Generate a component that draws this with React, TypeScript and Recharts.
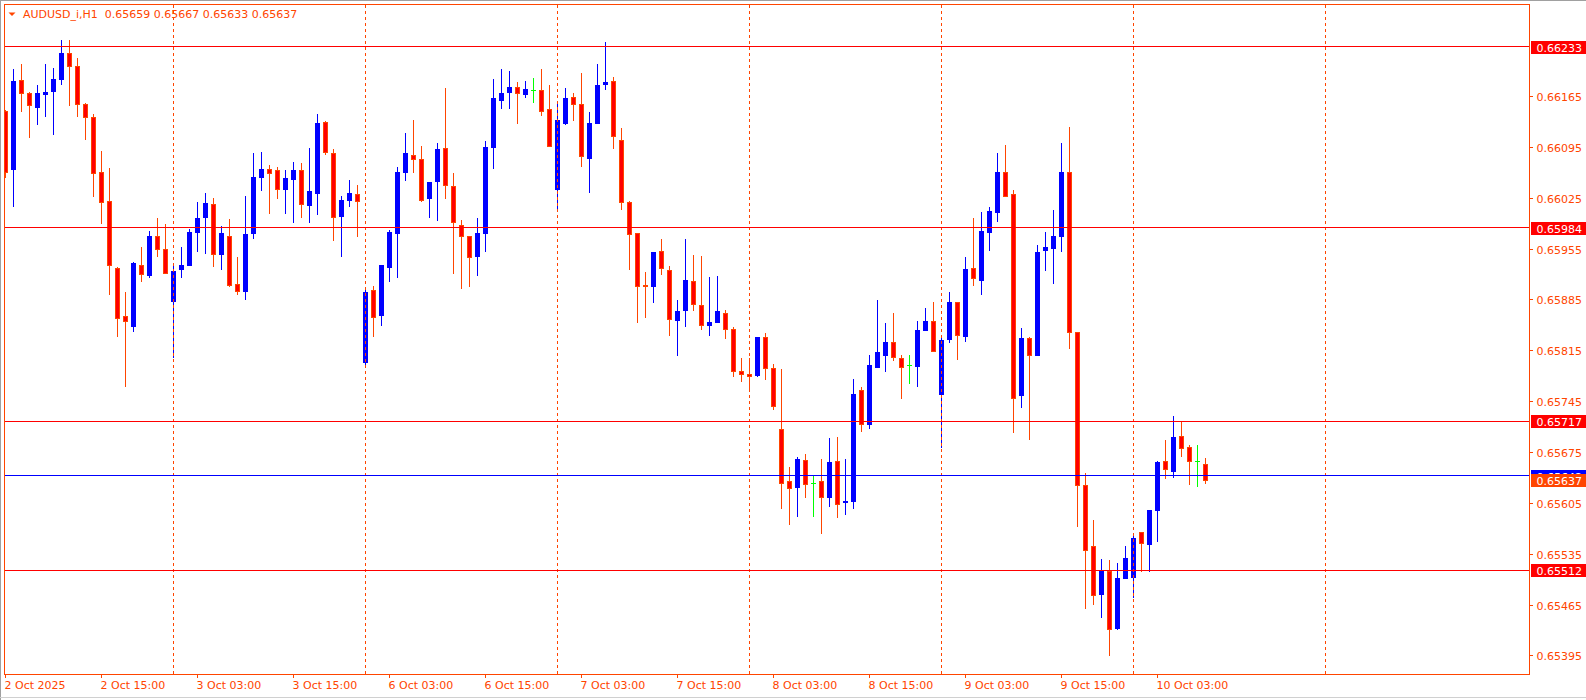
import React from "react";
import { ComposedChart, Bar, XAxis, YAxis, ReferenceLine } from "recharts";

// AUDUSD_i H1 candles, 2 Oct 03:00 .. 10 Oct 09:00
const OPEN = [
  0.66144, 0.66065, 0.66187, 0.66169, 0.6615, 0.66168, 0.66172, 0.66189, 0.66224, 0.66206,
  0.66154, 0.66136, 0.6606, 0.6602, 0.65928, 0.65862, 0.65849, 0.65933, 0.65919, 0.65972,
  0.65954, 0.65883, 0.65927, 0.65933, 0.65978, 0.65998, 0.66016, 0.65948, 0.65972, 0.65906,
  0.65896, 0.65977, 0.66053, 0.66065, 0.66063, 0.66037, 0.66051, 0.66063, 0.66015, 0.66032,
  0.66129, 0.66087, 0.66, 0.66022, 0.6603, 0.65799, 0.65898, 0.65863, 0.6593, 0.65976,
  0.66061, 0.66084, 0.66079, 0.66024, 0.66048, 0.66094, 0.66041, 0.65987, 0.65972, 0.65945,
  0.65976, 0.66095, 0.6616, 0.66171, 0.66177, 0.66168, 0.66173, 0.66173, 0.66147, 0.66037,
  0.66128, 0.66164, 0.66154, 0.6608, 0.66128, 0.66181, 0.66186, 0.66104, 0.66019, 0.65976,
  0.65905, 0.65903, 0.65951, 0.65926, 0.65857, 0.6587, 0.6591, 0.65878, 0.6585, 0.65854,
  0.65867, 0.65844, 0.65787, 0.65782, 0.65781, 0.65833, 0.6579, 0.65707, 0.65635, 0.65627,
  0.65664, 0.65632, 0.65635, 0.65613, 0.65662, 0.65606, 0.65607, 0.6576, 0.65713, 0.65792,
  0.65808, 0.65827, 0.65804, 0.65795, 0.65794, 0.65843, 0.65855, 0.65755, 0.6583, 0.65882,
  0.65834, 0.65928, 0.65912, 0.65978, 0.66006, 0.66061, 0.6603, 0.65753, 0.65832, 0.65809,
  0.65953, 0.65956, 0.65972, 0.6606, 0.6584, 0.65629, 0.65545, 0.65479, 0.65511, 0.65433,
  0.65501, 0.65503, 0.65565, 0.65548, 0.65595, 0.65662, 0.65649, 0.65697, 0.65682, 0.65662,
  0.65659,
];
const HIGH = [
  0.66146, 0.66202, 0.66209, 0.66171, 0.6618, 0.66209, 0.66204, 0.66242, 0.66242, 0.66218,
  0.66155, 0.6614, 0.66089, 0.66066, 0.65929, 0.65895, 0.65936, 0.65957, 0.65979, 0.65997,
  0.65989, 0.65932, 0.65957, 0.65982, 0.66019, 0.66032, 0.66025, 0.65986, 0.65996, 0.65944,
  0.66027, 0.66087, 0.66088, 0.6607, 0.66067, 0.66063, 0.66074, 0.66073, 0.66094, 0.6614,
  0.66131, 0.66092, 0.66027, 0.66049, 0.66043, 0.65902, 0.65904, 0.65932, 0.6598, 0.66067,
  0.66114, 0.66132, 0.66096, 0.66047, 0.661, 0.66176, 0.66059, 0.65994, 0.65972, 0.65997,
  0.66103, 0.66188, 0.66202, 0.662, 0.66184, 0.66186, 0.6619, 0.66202, 0.6618, 0.66154,
  0.66176, 0.66169, 0.66197, 0.66143, 0.66209, 0.66239, 0.66191, 0.66121, 0.66021, 0.65976,
  0.65923, 0.6595, 0.65968, 0.65931, 0.65884, 0.65968, 0.65946, 0.65945, 0.65916, 0.65917,
  0.6587, 0.65847, 0.65804, 0.65804, 0.65833, 0.65839, 0.65796, 0.65789, 0.65654, 0.65668,
  0.65672, 0.65643, 0.65665, 0.65694, 0.65696, 0.65665, 0.65776, 0.65765, 0.65809, 0.65884,
  0.65853, 0.65866, 0.65808, 0.65808, 0.65855, 0.65873, 0.65882, 0.65833, 0.65895, 0.65882,
  0.65943, 0.65997, 0.66005, 0.66012, 0.66087, 0.66098, 0.66035, 0.65846, 0.65833, 0.6596,
  0.65978, 0.66008, 0.661, 0.66122, 0.6584, 0.65646, 0.65581, 0.65528, 0.65526, 0.65522,
  0.65545, 0.65563, 0.65565, 0.65595, 0.65663, 0.65691, 0.65725, 0.65717, 0.65685, 0.65685,
  0.65667,
];
const LOW = [
  0.66053, 0.66014, 0.66145, 0.66109, 0.66127, 0.66137, 0.66113, 0.66182, 0.66153, 0.66138,
  0.66106, 0.66028, 0.6599, 0.65892, 0.65834, 0.65766, 0.65842, 0.65911, 0.65916, 0.65945,
  0.65921, 0.65806, 0.65916, 0.65932, 0.65952, 0.65949, 0.65931, 0.65927, 0.65903, 0.65892,
  0.65886, 0.6597, 0.66035, 0.66004, 0.66024, 0.66004, 0.65991, 0.65998, 0.65991, 0.66002,
  0.66085, 0.65967, 0.65945, 0.66014, 0.65973, 0.65793, 0.65834, 0.6585, 0.65911, 0.65916,
  0.6605, 0.66061, 0.6602, 0.65999, 0.65995, 0.66025, 0.65922, 0.65901, 0.65903, 0.65918,
  0.65952, 0.66066, 0.66148, 0.66149, 0.66128, 0.66163, 0.66157, 0.66139, 0.66096, 0.66008,
  0.66126, 0.66132, 0.66069, 0.66033, 0.66128, 0.66175, 0.66094, 0.6601, 0.65927, 0.65854,
  0.65861, 0.65881, 0.6592, 0.65836, 0.65808, 0.65848, 0.65871, 0.65845, 0.65836, 0.65854,
  0.65832, 0.65779, 0.65773, 0.65759, 0.6578, 0.65776, 0.65734, 0.65598, 0.65576, 0.65587,
  0.65613, 0.65587, 0.65563, 0.656, 0.65585, 0.6559, 0.65598, 0.65704, 0.65708, 0.65792,
  0.65786, 0.65801, 0.6575, 0.6577, 0.65766, 0.65843, 0.65814, 0.65682, 0.65827, 0.65803,
  0.65828, 0.65905, 0.65893, 0.65953, 0.65993, 0.66028, 0.65703, 0.65737, 0.65693, 0.65808,
  0.65926, 0.65907, 0.65951, 0.65818, 0.65573, 0.6546, 0.65466, 0.65448, 0.65396, 0.65432,
  0.65501, 0.65475, 0.65511, 0.65511, 0.65552, 0.65639, 0.6564, 0.65669, 0.65631, 0.65628,
  0.65633,
];
const CLOSE = [
  0.6606, 0.66186, 0.66169, 0.66152, 0.66169, 0.66171, 0.66188, 0.66224, 0.66207, 0.66154,
  0.66136, 0.66059, 0.66019, 0.65932, 0.6586, 0.65855, 0.65935, 0.6592, 0.65972, 0.65954,
  0.65921, 0.65924, 0.65932, 0.65978, 0.65997, 0.66018, 0.65948, 0.65976, 0.65905, 0.65897,
  0.65975, 0.66054, 0.66065, 0.66059, 0.66037, 0.66052, 0.66063, 0.66016, 0.66034, 0.66128,
  0.66088, 0.65998, 0.66022, 0.66032, 0.66021, 0.65895, 0.65861, 0.65932, 0.65978, 0.6606,
  0.66087, 0.66078, 0.66022, 0.66047, 0.66092, 0.66042, 0.65991, 0.65972, 0.65944, 0.65976,
  0.66095, 0.66162, 0.66169, 0.66177, 0.66169, 0.66175, 0.66173, 0.66145, 0.66096, 0.66132,
  0.66162, 0.66154, 0.66082, 0.66128, 0.6618, 0.66184, 0.6611, 0.66019, 0.65975, 0.65903,
  0.65903, 0.6595, 0.65928, 0.65858, 0.65869, 0.65912, 0.65879, 0.6585, 0.65854, 0.65869,
  0.65844, 0.65786, 0.65782, 0.65779, 0.65833, 0.65791, 0.65739, 0.65633, 0.65626, 0.65665,
  0.65631, 0.65632, 0.65613, 0.65661, 0.65604, 0.65608, 0.65755, 0.65713, 0.65795, 0.65813,
  0.65826, 0.65806, 0.65792, 0.65795, 0.65843, 0.65855, 0.65814, 0.65829, 0.65882, 0.65836,
  0.65927, 0.65914, 0.65979, 0.66007, 0.6606, 0.66028, 0.65749, 0.65832, 0.65808, 0.6595,
  0.65957, 0.65973, 0.6606, 0.6584, 0.65629, 0.6554, 0.65478, 0.65511, 0.65432, 0.65501,
  0.65529, 0.65556, 0.6555, 0.65595, 0.65661, 0.65651, 0.65696, 0.6568, 0.65662, 0.65662,
  0.65637,
];

// bar index of each time label, and the labels
const X_TICKS = [0, 12, 24, 36, 48, 60, 72, 84, 96, 108, 120, 132, 144];
const X_LABELS = [
  "2 Oct 2025", "2 Oct 15:00", "3 Oct 03:00", "3 Oct 15:00", "6 Oct 03:00",
  "6 Oct 15:00", "7 Oct 03:00", "7 Oct 15:00", "8 Oct 03:00", "8 Oct 15:00",
  "9 Oct 03:00", "9 Oct 15:00", "10 Oct 03:00",
];
// bars that open a new day (period separators)
const DAY_STARTS = [21, 45, 69, 93, 117, 141, 165];

const PRICE_TICKS = [
  0.65395, 0.65465, 0.65535, 0.65605, 0.65675, 0.65745,
  0.65815, 0.65885, 0.65955, 0.66025, 0.66095, 0.66165,
];
const LEVELS = [0.66233, 0.65984, 0.65717, 0.65512];
const ASK_PRICE = 0.65642;
const SYMBOL = "AUDUSD_i,H1";

const W = 1586;
const H = 700;
const FONT = '"DejaVu Sans", Verdana, sans-serif';
const EDGE = "#FF4500";
const BULL = "#0000FF";
const BEAR = "#FF0000";
const DOJI = "#00FF00";

const LAST = CLOSE.length - 1;
const LAST_PRICE = CLOSE[LAST];

const data = OPEN.map((o, i) => ({
  i,
  o,
  h: HIGH[i],
  l: LOW[i],
  c: CLOSE[i],
  range: [LOW[i], HIGH[i]],
}));

function Candle(props: any) {
  const { x, y, width, height, payload } = props;
  if (!payload || x == null || y == null) return null;
  const { o, h, l, c } = payload;
  const cx = Math.floor(x + width / 2) + 0.5;
  const py = (v: number) => y + ((h - v) / (h - l)) * height;
  const yHigh = Math.round(y);
  const yLow = Math.round(y + height);
  const top = Math.round(py(Math.max(o, c)));
  const bot = Math.round(py(Math.min(o, c)));

  if (o === c) {
    return (
      <g>
        <rect x={cx - 0.5} y={yHigh} width={1} height={yLow - yHigh + 1} fill={DOJI} />
        <rect x={cx - 2.5} y={top} width={5} height={1} fill={DOJI} />
      </g>
    );
  }
  if (c > o) {
    return (
      <g>
        <rect x={cx - 0.5} y={yHigh} width={1} height={yLow - yHigh + 1} fill={BULL} />
        <rect x={cx - 2.5} y={top} width={5} height={Math.max(1, bot - top + 1)} fill={BULL} />
      </g>
    );
  }
  return (
    <g>
      <rect x={cx - 0.5} y={yHigh} width={1} height={yLow - yHigh + 1} fill={EDGE} />
      <rect
        x={cx - 2}
        y={top + 0.5}
        width={4}
        height={Math.max(0, bot - top)}
        fill={BEAR}
        stroke={EDGE}
        strokeWidth={1}
      />
    </g>
  );
}

function PriceTick(props: any) {
  const { x, y, payload } = props;
  const v: number = payload.value;
  const ty = Math.round(y);
  const text = v.toFixed(5);
  let bg: string | null = null;
  if (v === ASK_PRICE) bg = BULL;
  else if (v === LAST_PRICE) bg = EDGE;
  else if (LEVELS.includes(v)) bg = BEAR;
  if (bg) {
    return (
      <g>
        <rect x={x + 2} y={ty - 6} width={57} height={13} fill={bg} />
        <text x={x + 7.5} y={ty + 4.5} fill="#FFFFFF" fontSize={11} fontFamily={FONT}>
          {text}
        </text>
      </g>
    );
  }
  return (
    <g>
      <line x1={x} x2={x + 4} y1={ty + 0.5} y2={ty + 0.5} stroke={EDGE} />
      <text x={x + 7.5} y={ty + 4.5} fill={EDGE} fontSize={11} fontFamily={FONT}>
        {text}
      </text>
    </g>
  );
}

function TimeTick(props: any) {
  const { x, y, payload } = props;
  const k = X_TICKS.indexOf(payload.value);
  const tx = Math.floor(x) + 0.5;
  return (
    <g>
      <line x1={tx} x2={tx} y1={y} y2={y + 4} stroke={EDGE} />
      <text x={tx - 1} y={y + 15} fill={EDGE} fontSize={11} fontFamily={FONT}>
        {X_LABELS[k]}
      </text>
    </g>
  );
}

export default function App() {
  const title = `${SYMBOL}  ${OPEN[LAST].toFixed(5)} ${HIGH[LAST].toFixed(5)} ${LOW[LAST].toFixed(5)} ${CLOSE[LAST].toFixed(5)}`;

  return (
    <div
      style={{
        position: "absolute",
        left: 0,
        top: 0,
        width: W,
        height: H,
        background: "#FFFFFF",
        overflow: "hidden",
        fontFamily: FONT,
      }}
    >
      <ComposedChart
        width={W}
        height={H}
        data={data}
        margin={{ top: 4, right: 0, bottom: 0, left: 4 }}
      >
        <XAxis
          dataKey="i"
          type="number"
          domain={[-0.1875, 190.4375]}
          allowDataOverflow
          ticks={X_TICKS}
          interval={0}
          height={26}
          axisLine={false}
          tickLine={false}
          tickSize={0}
          tickMargin={0}
          tick={(p: any) => <TimeTick {...p} />}
        />
        <YAxis
          orientation="right"
          type="number"
          domain={[0.653694, 0.662917]}
          allowDataOverflow
          ticks={[...PRICE_TICKS, ASK_PRICE, ...LEVELS, LAST_PRICE]}
          interval={0}
          width={57}
          axisLine={false}
          tickLine={false}
          tickSize={0}
          tickMargin={0}
          tick={(p: any) => <PriceTick {...p} />}
        />
        {DAY_STARTS.map((d) => (
          <ReferenceLine
            key={`d${d}`}
            x={d}
            stroke={EDGE}
            strokeDasharray="3 3"
            shapeRendering="crispEdges"
          />
        ))}
        <Bar
          dataKey="range"
          barSize={6}
          isAnimationActive={false}
          shape={(p: any) => <Candle {...p} />}
        />
        {LEVELS.map((lv) => (
          <ReferenceLine key={`l${lv}`} y={lv} stroke={BEAR} shapeRendering="crispEdges" />
        ))}
        <ReferenceLine y={ASK_PRICE} stroke={BULL} shapeRendering="crispEdges" />
      </ComposedChart>

      {/* chart frame */}
      <div
        style={{
          position: "absolute",
          left: 4,
          top: 4,
          width: 1526,
          height: 671,
          border: `1px solid ${EDGE}`,
          boxSizing: "border-box",
          pointerEvents: "none",
        }}
      />
      <svg
        width={W}
        height={H}
        style={{ position: "absolute", left: 0, top: 0, pointerEvents: "none" }}
      >
        <rect x={0} y={0} width={W} height={1} fill="#A0A0A0" />
        <rect x={0} y={0} width={1} height={H} fill="#A0A0A0" />
        <rect x={0} y={697} width={W} height={1} fill="#D0D0D0" />
        <path d="M8.5 12.5 L15.5 12.5 L12 16 Z" fill={EDGE} />
        <text x={23} y={17.5} fill={EDGE} fontSize={11} fontFamily={FONT} style={{ whiteSpace: "pre" }}>
          {title}
        </text>
      </svg>
    </div>
  );
}
